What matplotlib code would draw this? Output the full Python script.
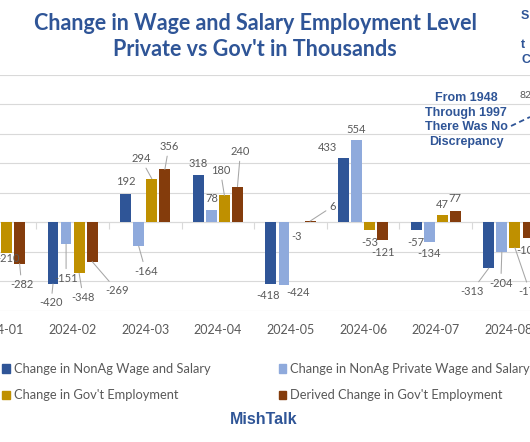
import matplotlib.pyplot as plt
import numpy as np
from matplotlib.patches import Patch
from matplotlib.lines import Line2D

plt.rcParams['font.family'] = ['Lato', 'DejaVu Sans']

# data (thousands), 2024-01 total/private bars sit outside the crop
months = ["2024-01", "2024-02", "2024-03", "2024-04", "2024-05", "2024-06", "2024-07", "2024-08"]
nonag_total = [np.nan, -420, 192, 318, -418, 433, -57, -313]
nonag_private = [np.nan, -151, -164, 78, -424, 554, -134, -204]
govt_emp = [-210, -348, 294, 180, -3, -53, 47, -174]
govt_derived = [-282, -269, 356, 240, 6, -121, 77, -106]

series_names = ["Change in NonAg Wage and Salary",
                "Change in NonAg Private Wage and Salary",
                "Change in Gov't Employment",
                "Derived Change in Gov't Employment"]
colors = ["#2F5597", "#8FAADC", "#BF9000", "#843C0C"]

# label offsets from bar end in pixels (dx, dy down, leader line?)
offs_total = [None, (-2, 19, True), (0, -12, False), (0, -12, False), (-3, 12, False),
              (-16, -11, False), (0, 12, False), (-17, 23, True)]
offs_private = [None, (0, 34, True), (7, 25, True), (0, -12, False), (14, 8, False),
                (0, -11, False), (0, 12, False), (-1, 31, True)]
offs_govt = [(2, 6, False), (4, 24, True), (-11, -20, True), (-4, -25, True), (0, 14, False),
             (0, 13, False), (0, -11, False), (15, 44, True)]
offs_derived = [(2, 21, True), (25, 29, True), (4, -23, True), (3, -35, True), (23, -15, True),
                (0, 13, False), (0, -12, False), (0, 13, False)]

W, H = 530, 442
fig = plt.figure(figsize=(W / 100, H / 100), dpi=100)
ax = fig.add_axes([0, (H - 310.5) / H, 1, (310.5 - 74.5) / H])

x = np.arange(len(months))
pitch = 0.18
width = 0.149
all_vals = [nonag_total, nonag_private, govt_emp, govt_derived]
all_offs = [offs_total, offs_private, offs_govt, offs_derived]

for i, (vals, offs) in enumerate(zip(all_vals, all_offs)):
    xs = x + (i - 1.5) * pitch
    ax.bar(xs, vals, width, color=colors[i], linewidth=0, zorder=3)
    for xx, v, off in zip(xs, vals, offs):
        if off is None or np.isnan(v):
            continue
        dx, dy, lead = off
        arrow = None
        if lead:
            arrow = dict(arrowstyle='-', color='#a6a6a6', lw=0.75, shrinkA=1, shrinkB=0)
        ax.annotate(str(int(v)), xy=(xx, v), xytext=(dx, -dy), textcoords='offset pixels',
                    ha='center', va='center', fontsize=8, color='#595959',
                    arrowprops=arrow, annotation_clip=False, zorder=4)

ax.set_ylim(-600, 1000)
ax.set_yticks(np.arange(-600, 1001, 200))
ax.set_xlim(0.1165, 0.1165 + W / 73.8)
ax.set_xticks(x)
ax.set_xticklabels(months)
ax.tick_params(axis='x', length=0, pad=10, labelsize=9, labelcolor='#595959')
ax.tick_params(axis='y', length=0, labelleft=False)
ax.grid(axis='y', color='#d9d9d9', lw=0.8, zorder=0)
for s in ax.spines.values():
    s.set_visible(False)

# category boundary ticks on the zero line
sec = ax.secondary_xaxis(0.375)
sec.set_xticks(np.arange(-0.5, 8, 1))
sec.tick_params(length=5, width=0.8, color='#d9d9d9', labelbottom=False, labeltop=False)
for s in sec.spines.values():
    s.set_color('#d9d9d9')
    s.set_linewidth(0.8)

blue = "#2F5597"
fig.text(255 / W, 1 - 24 / H, "Change in Wage and Salary Employment Level", ha='center', va='center',
         fontsize=15.5, fontweight='bold', color=blue)
fig.text(255 / W, 1 - 49 / H, "Private vs Gov't in Thousands", ha='center', va='center',
         fontsize=15.5, fontweight='bold', color=blue)

fig.text(466 / W, 1 - 120 / H, "From 1948\nThrough 1997\nThere Was No\nDiscrepancy", ha='center',
         va='center', fontsize=9, fontweight='bold', color=blue, family='Liberation Sans',
         linespacing=1.3)
fig.add_artist(Line2D([511 / W, 530 / W], [1 - 126 / H, 1 - 117 / H], transform=fig.transFigure,
                      color=blue, lw=1.3, ls=(0, (3, 2))))
for letter, yy in [("S", 16), ("t", 45), ("C", 60)]:
    fig.text(521 / W, 1 - yy / H, letter, ha='left', va='center', fontsize=9, fontweight='bold',
             color=blue, family='Liberation Sans')
fig.text(520 / W, 1 - 95 / H, "82", ha='left', va='center', fontsize=7.5, color='#595959')

handles = [Patch(color=colors[0]), Patch(color=colors[2]), Patch(color=colors[1]), Patch(color=colors[3])]
labels = [series_names[0], series_names[2], series_names[1], series_names[3]]
fig.legend(handles, labels, ncol=2, loc='upper left', bbox_to_anchor=(2 / W, 1 - 363 / H),
           frameon=False, fontsize=9.3, handlelength=0.6, handleheight=0.6, handletextpad=0.3,
           columnspacing=5.3, borderpad=0, borderaxespad=0, labelspacing=1.1, labelcolor='#595959')

fig.text(264 / W, 1 - 420 / H, "MishTalk", ha='center', va='center', fontsize=11.5,
         fontweight='bold', color=blue, family='Liberation Sans')

fig.savefig("out.png", dpi=100)
